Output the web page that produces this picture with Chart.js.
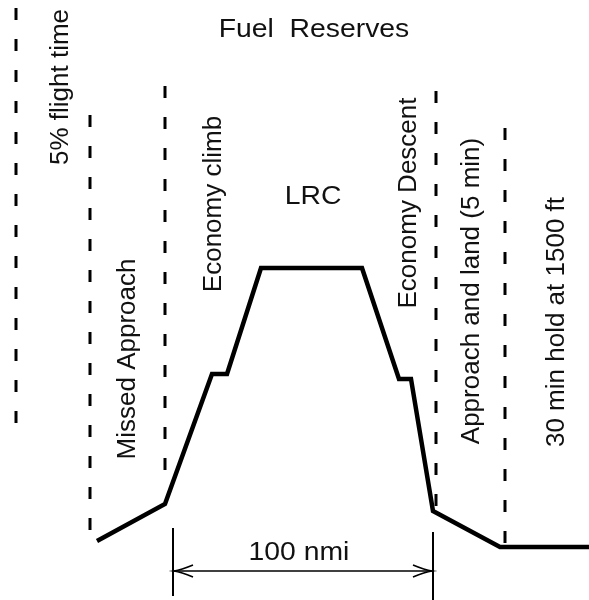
<!DOCTYPE html>
<html>
<head>
<meta charset="utf-8">
<script src="https://cdn.jsdelivr.net/npm/chart.js@4"></script>
<style>
  html, body { margin: 0; padding: 0; background: #fff; }
  #wrap { width: 589px; height: 600px; }
</style>
</head>
<body>
<div id="wrap"><canvas id="chart"></canvas></div>
<script>
// flight profile (x = distance units, y = altitude units)
const profileX = [97, 165, 212, 227, 261, 362, 399, 411, 433, 500, 589];
const profileY = [59, 96, 226, 226, 332, 332, 221, 221, 89, 53, 53];

// dashed phase boundaries
const boundaryX = [16, 90, 165, 436, 505];
const boundaryTop = [592, 485, 514, 509, 472];
const boundaryBottom = [172, 63, 125, 90, 53];

// 100 nmi dimension
const spanX = [173, 433];
const spanY = 29;
const tickTop = [72, 68];
const tickBottom = [4, 0];

const labels = [
  { text: "Fuel  Reserves", x: 314, y: 570, rot: false },
  { text: "5% flight time", x: 61, y: 513, rot: true },
  { text: "Missed Approach", x: 128, y: 241, rot: true },
  { text: "Economy climb", x: 214, y: 396, rot: true },
  { text: "LRC", x: 313, y: 403, rot: false },
  { text: "Economy Descent", x: 409, y: 397, rot: true },
  { text: "Approach and land (5 min)", x: 472, y: 309, rot: true },
  { text: "30 min hold at 1500 ft", x: 557, y: 278, rot: true },
  { text: "100 nmi", x: 299, y: 47, rot: false },
];

const datasets = [];
datasets.push({
  data: profileX.map((x, i) => ({ x, y: profileY[i] })),
  borderColor: "#000",
  borderWidth: 4.5,
  borderJoinStyle: "miter",
});
boundaryX.forEach((x, i) => {
  datasets.push({
    data: [{ x, y: boundaryTop[i] }, { x, y: boundaryBottom[i] }],
    borderColor: "#000",
    borderWidth: 3,
    borderDash: [12, 19],
  });
});
datasets.push({
  data: spanX.map((x) => ({ x, y: spanY })),
  borderColor: "#000",
  borderWidth: 1.3,
});
spanX.forEach((x, i) => {
  datasets.push({
    data: [{ x, y: tickTop[i] }, { x, y: tickBottom[i] }],
    borderColor: "#000",
    borderWidth: 2,
  });
});

const textPlugin = {
  id: "texts",
  afterDatasetsDraw(chart) {
    const { ctx, scales } = chart;
    ctx.save();
    // arrowheads on the dimension line
    const yA = scales.y.getPixelForValue(spanY);
    const xl = scales.x.getPixelForValue(spanX[0]);
    const xr = scales.x.getPixelForValue(spanX[1]);
    ctx.strokeStyle = "#000";
    ctx.lineWidth = 1.6;
    ctx.beginPath();
    ctx.moveTo(xl + 20, yA - 6); ctx.quadraticCurveTo(xl + 8, yA - 1, xl + 1, yA);
    ctx.quadraticCurveTo(xl + 8, yA + 1, xl + 20, yA + 6);
    ctx.moveTo(xr - 20, yA - 6); ctx.quadraticCurveTo(xr - 8, yA - 1, xr - 1, yA);
    ctx.quadraticCurveTo(xr - 8, yA + 1, xr - 20, yA + 6);
    ctx.stroke();

    ctx.fillStyle = "#111";
    ctx.font = "26px 'Liberation Sans', Arial, sans-serif";
    ctx.textAlign = "center";
    ctx.textBaseline = "middle";
    labels.forEach((l) => {
      const px = scales.x.getPixelForValue(l.x);
      const py = scales.y.getPixelForValue(l.y);
      ctx.save();
      ctx.translate(px, py);
      if (l.rot) ctx.rotate(-Math.PI / 2);
      else ctx.scale(1.09, 1);
      ctx.fillText(l.text, 0, 0);
      ctx.restore();
    });
    ctx.restore();
  },
};

new Chart(document.getElementById("chart"), {
  type: "scatter",
  data: { datasets },
  options: {
    responsive: true,
    maintainAspectRatio: false,
    animation: false,
    showLine: true,
    clip: false,
    layout: { padding: 0 },
    elements: { point: { radius: 0, hoverRadius: 0 }, line: { tension: 0 } },
    plugins: { legend: { display: false }, tooltip: { enabled: false } },
    scales: {
      x: { type: "linear", min: 0, max: 589, display: false },
      y: { type: "linear", min: 0, max: 600, display: false },
    },
  },
  plugins: [textPlugin],
});
</script>
</body>
</html>
